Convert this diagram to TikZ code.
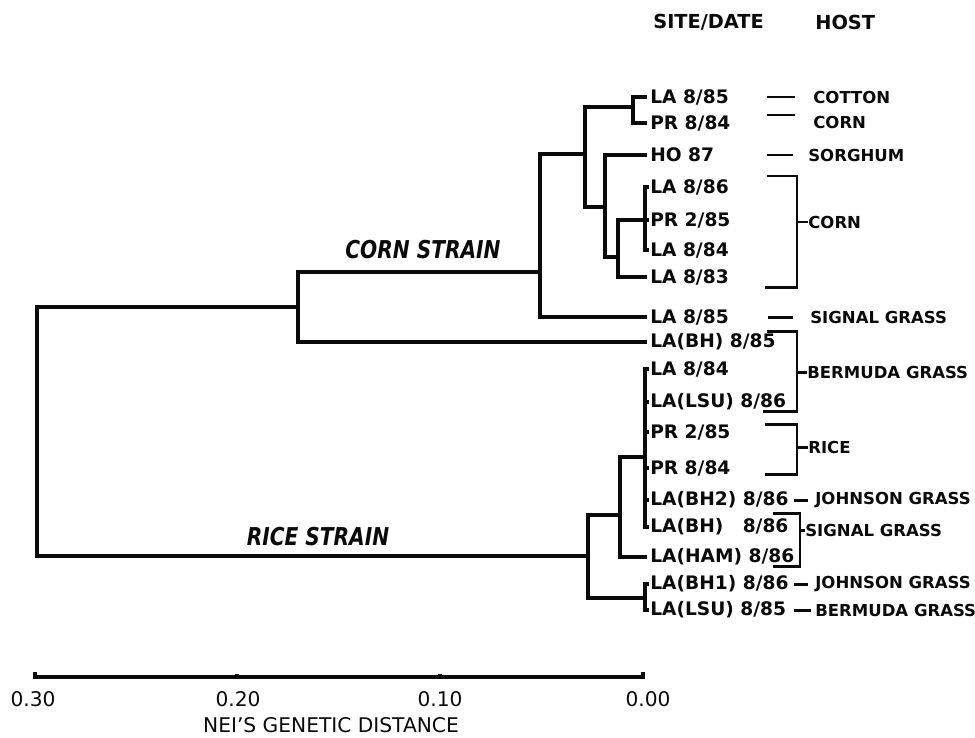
\documentclass[tikz,border=0pt]{standalone}
\usepackage{fontspec}
\setmainfont{DejaVu Sans}
\newfontfamily\cepafont[FakeStretch=0.82]{DejaVu Sans}
\usepackage{tikz}
\usetikzlibrary{positioning}
\definecolor{tinta}{RGB}{10, 10, 10}

\begin{document}
\begin{tikzpicture}[x=0.02cm, y=-0.02cm,
        rama/.style={draw=tinta, line width=2.1pt, line cap=rect},
        llave/.style={draw=tinta, line width=1.7pt},
        eje/.style={draw=tinta, line width=1.8pt},
        sitio/.style={anchor=west, inner xsep=2.8pt, inner ysep=0pt,
                      font=\bfseries\fontsize{10.6}{12}\selectfont, text=tinta},
        hospedero/.style={anchor=west, inner sep=0pt,
                      font=\bfseries\fontsize{9.4}{11}\selectfont, text=tinta},
        cabeza/.style={anchor=west, inner sep=0pt,
                      font=\bfseries\fontsize{11}{13}\selectfont, text=tinta},
        cepa/.style={font=\cepafont\bfseries\itshape\fontsize{14}{15}\selectfont, text=tinta},
        escala/.style={font=\fontsize{11.5}{13}\selectfont, text=tinta}]
                \useasboundingbox (0,0) rectangle (975,738);

                % Encabezados
                \node[cabeza] (col1) at (653,22) {SITE/DATE};
                \node[cabeza] (col2) at (815,22) {HOST};

                % Hojas: sitio/fecha
                \node[sitio] (l1) at (645,97) {LA 8/85};
                \node[sitio] (l2) at (645,123) {PR 8/84};
                \node[sitio] (l3) at (645,155) {HO 87};
                \node[sitio] (l4) at (645,187) {LA 8/86};
                \node[sitio] (l5) at (645,220) {PR 2/85};
                \node[sitio] (l6) at (645,250) {LA 8/84};
                \node[sitio] (l7) at (645,277) {LA 8/83};
                \node[sitio] (l8) at (645,317) {LA 8/85};
                \node[sitio] (l9) at (645,342) {LA(BH) 8/85};
                \node[sitio] (l10) at (645,369) {LA 8/84};
                \node[sitio] (l11) at (645,402) {LA(LSU) 8/86};
                \node[sitio] (l12) at (645,432) {PR 2/85};
                \node[sitio] (l13) at (645,468) {PR 8/84};
                \node[sitio] (l14) at (645,500) {LA(BH2) 8/86};
                \node[sitio] (l15) at (645,527) {LA(BH)\phantom{2} 8/86};
                \node[sitio] (l16) at (645,557) {LA(HAM) 8/86};
                \node[sitio] (l17) at (645,584) {LA(BH1) 8/86};
                \node[sitio] (l18) at (645,610) {LA(LSU) 8/85};

                % Nodos internos
                \coordinate (raiz) at (37,430);
                \coordinate (A) at (298,307);
                \coordinate (B) at (540,272);
                \coordinate (C) at (585,154);
                \coordinate (D) at (633,107);
                \coordinate (E) at (605,207);
                \coordinate (F) at (618,257);
                \coordinate (H) at (588,556);
                \coordinate (I) at (620,515);
                \coordinate (J) at (645,457);
                \coordinate (K) at (645,598);

                % Ramas
                \draw[rama] (A) -| (raiz) |- (H);
                \draw[rama] (B) -| (A) |- (l9.west);
                \draw[rama] (C) -| (B) |- (l8.west);
                \draw[rama] (D) -| (C) |- (E);
                \draw[rama] (l1.west) -| (D) |- (l2.west);
                \draw[rama] (l3.west) -| (E) |- (F);
                \draw[rama] (l5.west) -| (F) |- (l7.west);
                \draw[rama] (l4.west) -- (l6.west);
                \draw[rama] (I) -| (H) |- (K);
                \draw[rama] (J) -| (I) |- (l16.west);
                \draw[rama] (l10.west) -- (l15.west);
                \draw[rama] (l17.west) -- (l18.west);
                \foreach \h in {4,5,6,10,11,12,13,14,15,17,18}
                    \draw[rama] (l\h.west) -- ++(2,0);

                % Cepas
                \node[cepa] (maiz) at (423,250) {CORN STRAIN};
                \node[cepa] (arroz) at (318,537) {RICE STRAIN};

                % Hospederos
                \node[hospedero] (h1) at (813,97) {COTTON};
                \node[hospedero] (h2) at (813,122) {CORN};
                \node[hospedero] (h3) at (808,155) {SORGHUM};
                \node[hospedero] (h4) at (808,222) {CORN};
                \node[hospedero] (h5) at (810,317) {SIGNAL GRASS};
                \node[hospedero] (h6) at (807,372) {BERMUDA GRASS};
                \node[hospedero] (h7) at (808,447) {RICE};
                \node[hospedero] (h8) at (815,500) {JOHNSON GRASS};
                \node[hospedero] (h9) at (805,530) {SIGNAL GRASS};
                \node[hospedero] (h10) at (815,584) {JOHNSON GRASS};
                \node[hospedero] (h11) at (815,610) {BERMUDA GRASS};

                \draw[llave] (h1.west) ++(-46,0) -- ++(28,0);
                \draw[llave] (h2.west) ++(-46,-7) -- ++(28,0);
                \draw[llave] (h3.west) ++(-41,0) -- ++(26,0);
                \draw[llave] (h4.west) -- ++(-11,0) ++(-30,-46) -- ++(30,0) -- ++(0,111) -- ++(-32,0);
                \draw[llave] (h5.west) ++(-42,0) -- ++(25,0);
                \draw[llave] (h6.west) -- ++(-10,0) ++(-30,-41) -- ++(30,0) -- ++(0,80) -- ++(-34,0);
                \draw[llave] (h7.west) -- ++(-11,0) ++(-32,-23) -- ++(32,0) -- ++(0,50) -- ++(-32,0);
                \draw[llave] (h8.west) ++(-21,0) -- ++(14,0);
                \draw[llave] (h9.west) -- ++(-5,0) ++(-27,-17) -- ++(27,0) -- ++(0,53) -- ++(-27,0);
                \draw[llave] (h10.west) ++(-21,0) -- ++(14,0);
                \draw[llave] (h11.west) ++(-21,0) -- ++(17,0);

                % Escala de distancia
                \coordinate (e0) at (35,677);
                \coordinate (e1) at (643,677);
                \draw[eje] (e0) ++(0,-5) -- (e0) -- (e1) -- ++(0,-5);
                \foreach \x/\v/\n in {33/0.30/a, 238/0.20/b, 440/0.10/c, 648/0.00/d} {
                    \node[escala] (v\n) at (\x,699) {\v};
                }
                \draw[eje] (237,677) -- ++(0,-3);
                \draw[eje] (440,677) -- ++(0,-3);
                \node[escala] (titulo) at (331,725) {NEI'S GENETIC DISTANCE};
            \end{tikzpicture}
\end{document}
